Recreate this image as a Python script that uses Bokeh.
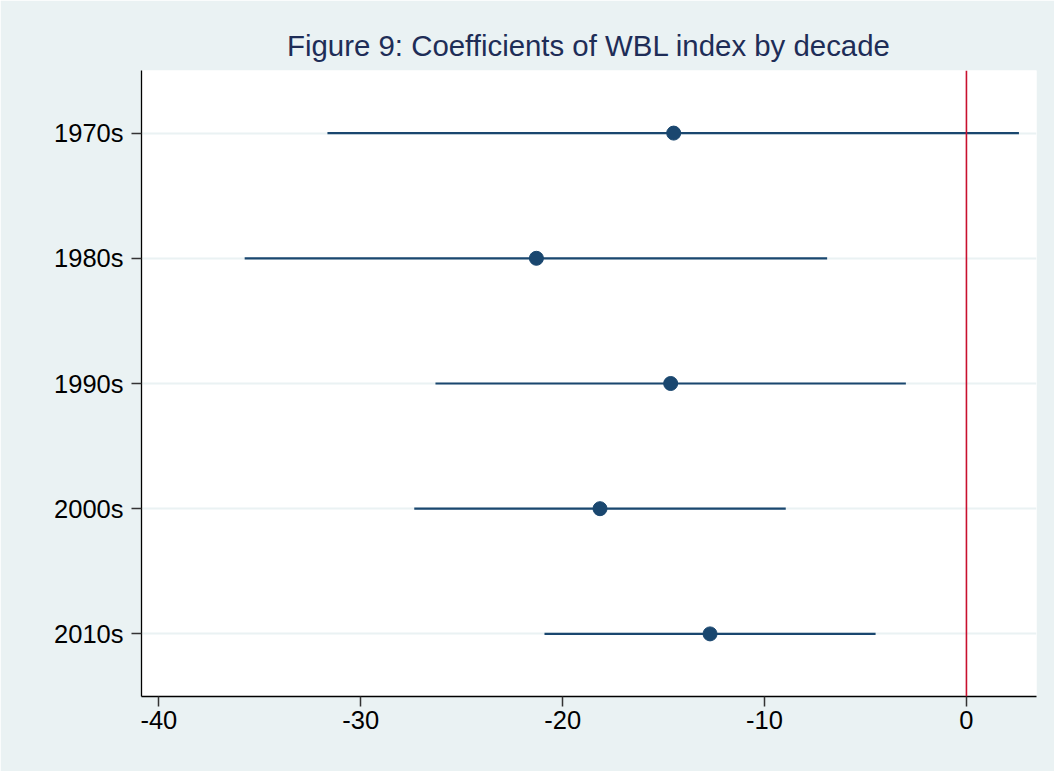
from bokeh.plotting import figure
from bokeh.models import FactorRange, Range1d, FixedTicker, Span
from bokeh.embed import file_html
from bokeh.resources import INLINE

# ---- data ----
decades = ["1970s", "1980s", "1990s", "2000s", "2010s"]
coef = [-14.5, -21.3, -14.65, -18.15, -12.7]
ci_low = [-31.65, -35.75, -26.3, -27.35, -20.9]
ci_high = [2.6, -6.9, -3.0, -8.95, -4.5]
x_ticks = [-40, -30, -20, -10, 0]
ref_line = 0

BG = "#EAF2F3"
NAVY = "#1a476f"

p = figure(
    width=1054, height=771,
    frame_width=895, frame_height=626,
    min_border_left=141, min_border_right=18,
    min_border_top=70, min_border_bottom=75,
    y_range=FactorRange(factors=list(reversed(decades))),
    x_range=Range1d(-40.86, 3.47),
    output_backend="svg", toolbar_location=None,
    title="Figure 9: Coefficients of WBL index by decade",
)

p.border_fill_color = BG
p.background_fill_color = "white"
p.outline_line_color = None

p.title.align = "center"
p.title.text_font = "Liberation Sans"
p.title.text_font_size = "29.4px"
p.title.text_font_style = "normal"
p.title.text_color = "#1e2d57"
p.title.standoff = 17

# grid
p.xgrid.visible = False
p.ygrid.grid_line_color = BG
p.ygrid.grid_line_width = 2

# axes
for ax in (p.xaxis[0], p.yaxis[0]):
    ax.axis_line_color = "black"
    ax.axis_line_width = 1.3
    ax.major_tick_line_color = "#333333"
    ax.major_tick_line_width = 1.5
    ax.major_tick_out = 10
    ax.major_tick_in = 0
    ax.minor_tick_line_color = None
    ax.major_label_text_font = "Liberation Sans"
    ax.major_label_text_font_size = "25.5px"
    ax.major_label_text_color = "black"

p.xaxis.ticker = FixedTicker(ticks=x_ticks)
p.xaxis.major_label_overrides = {t: str(t) for t in x_ticks}
p.xaxis.major_label_standoff = 4
p.yaxis.major_label_standoff = 8

# reference line
p.add_layout(Span(location=ref_line, dimension="height", line_color="#c8102e", line_width=1.6))

# CIs and point estimates
p.segment(x0=ci_low, y0=decades, x1=ci_high, y1=decades, line_color=NAVY, line_width=2.2)
p.scatter(x=coef, y=decades, size=14, fill_color=NAVY, line_color=NAVY)

open("out.html", "w").write(file_html(p, INLINE))
